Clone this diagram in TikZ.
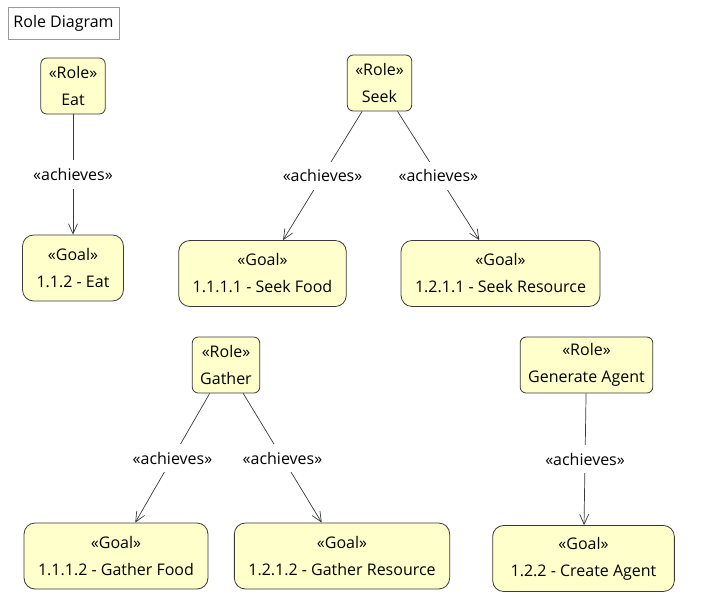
\documentclass[tikz,border=0pt]{standalone}
\usepackage{fontspec}
\setmainfont{Open Sans}
\usepackage{tikz}
\usetikzlibrary{arrows.meta,positioning,calc}

\definecolor{notefill}{HTML}{FFFFCC}
\definecolor{noteline}{HTML}{3A3A3A}

\begin{document}
\begin{tikzpicture}[
  x=1pt, y=-1pt,
  font=\fontsize{16}{27}\selectfont,
  rolebox/.style={draw=noteline, fill=notefill, rounded corners=6pt, align=center,
    inner xsep=8pt, inner ysep=0pt, minimum height=56pt, line width=0.8pt},
  goalbox/.style={draw=noteline, fill=notefill, rounded corners=11pt, align=center,
    inner xsep=14pt, inner ysep=0pt, minimum height=66pt, line width=0.8pt},
  titlebox/.style={draw=gray!80, fill=white, inner xsep=5.5pt, minimum height=32pt},
  achv/.style={-{Straight Barb[length=10pt, width=9pt]}, noteline, line width=0.7pt},
  alab/.style={fill=white, inner xsep=1pt, inner ysep=8pt, text=black}
]
\useasboundingbox (0,0) rectangle (708,606);

\node[titlebox] (title) at (63.5,23) {Role Diagram};

% roles
\node[rolebox] (eatR) at (73,86) {«Role»\\Eat};
\node[rolebox] (seekR) at (379.5,83) {«Role»\\Seek};
\node[rolebox] (gatherR) at (226,365) {«Role»\\Gather};
\node[rolebox] (genR) at (586.5,365) {«Role»\\Generate Agent};

% goals
\node[goalbox] (eatG) at (73,268) {«Goal»\\1.1.2 - Eat};
\node[goalbox] (seekfoodG) at (262.5,273.5) {«Goal»\\1.1.1.1 - Seek Food};
\node[goalbox] (seekresG) at (500.5,273.5) {«Goal»\\1.2.1.1 - Seek Resource};
\node[goalbox] (gatherfoodG) at (116,556) {«Goal»\\1.1.1.2 - Gather Food};
\node[goalbox] (gatherresG) at (342,556) {«Goal»\\1.2.1.2 - Gather Resource};
\node[goalbox, inner xsep=18pt] (createG) at (583.5,558.5) {«Goal»\\1.2.2 - Create Agent};

% achieves links
\draw[achv] (eatR) -- node[alab] {«achieves»} (eatG);
\draw[achv] (seekR) -- node[alab] {«achieves»} (seekfoodG);
\draw[achv] (seekR) -- node[alab] {«achieves»} (seekresG);
\draw[achv] (gatherR) -- node[alab] {«achieves»} (gatherfoodG);
\draw[achv] (gatherR) -- node[alab] {«achieves»} (gatherresG);
\draw[achv] (genR) -- node[alab] {«achieves»} (createG);
\end{tikzpicture}
\end{document}
